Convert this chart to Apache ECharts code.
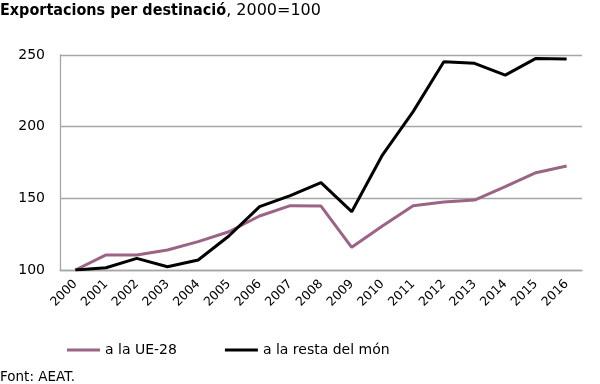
<!DOCTYPE html>
<html><head><meta charset="utf-8">
<script src="https://cdn.jsdelivr.net/npm/echarts@6/dist/echarts.min.js"></script>
<style>html,body{margin:0;padding:0;background:#fff}#c{width:600px;height:384px}</style>
</head><body><div id="c"></div>
<script>
var years = ['2000','2001','2002','2003','2004','2005','2006','2007','2008','2009','2010','2011','2012','2013','2014','2015','2016'];
var ue28 = [100,110.5,110.5,114,119.8,126.7,137.7,144.9,144.6,115.8,130.7,144.9,147.5,148.8,158.1,167.9,172.6];
var restaMon = [100,101.6,108.1,102.3,107,123.7,144.2,151.9,160.9,140.7,180.2,210.5,245.3,244.2,236,247.6,247.2];
var yTicks = [100,150,200,250];
var seriesNames = ['a la UE-28','a la resta del món'];
var chart = echarts.init(document.getElementById('c'));
var font = 'DejaVu Sans';
chart.setOption({
  animation:false,
  textStyle:{fontFamily:font},
  graphic:[
    {type:'text',left:0,top:3,style:{text:'{b|Exportacions per destinació}{n|, 2000=100}',rich:{
      b:{fontFamily:'DejaVu Sans Condensed',fontWeight:'bold',fontSize:16,fill:'#000'},
      n:{fontFamily:font,fontSize:16,fill:'#000'}}}},
    {type:'text',left:0,top:370,style:{text:'Font: AEAT.',fontFamily:font,fontSize:13.5,fill:'#000'}}
  ],
  legend:{left:62,top:338,itemWidth:33,itemHeight:3,itemGap:48,icon:'rect',
    textStyle:{fontFamily:font,fontSize:14,color:'#000',padding:[0,0,0,0]},
    data:seriesNames},
  grid:{left:60,right:18,top:55,bottom:114,containLabel:false},
  xAxis:{type:'category',data:years,boundaryGap:true,
    axisLine:{lineStyle:{color:'#a6a6a6',width:1.3}},axisTick:{show:false},
    axisLabel:{rotate:45,fontSize:12.5,color:'#000',margin:12,interval:0,fontFamily:font}},
  yAxis:{type:'value',min:100,max:250,interval:50,
    axisLine:{show:true,lineStyle:{color:'#a6a6a6',width:1.3}},axisTick:{show:false},
    splitLine:{lineStyle:{color:'#a6a6a6',width:1.3}},
    axisLabel:{fontSize:14,color:'#000',margin:15,fontFamily:font}},
  series:[
    {name:seriesNames[0],type:'line',data:ue28,symbol:'none',lineStyle:{color:'#9b6487',width:3},itemStyle:{color:'#9b6487'}},
    {name:seriesNames[1],type:'line',data:restaMon,symbol:'none',lineStyle:{color:'#000',width:3},itemStyle:{color:'#000'}}
  ]
});
</script></body></html>
